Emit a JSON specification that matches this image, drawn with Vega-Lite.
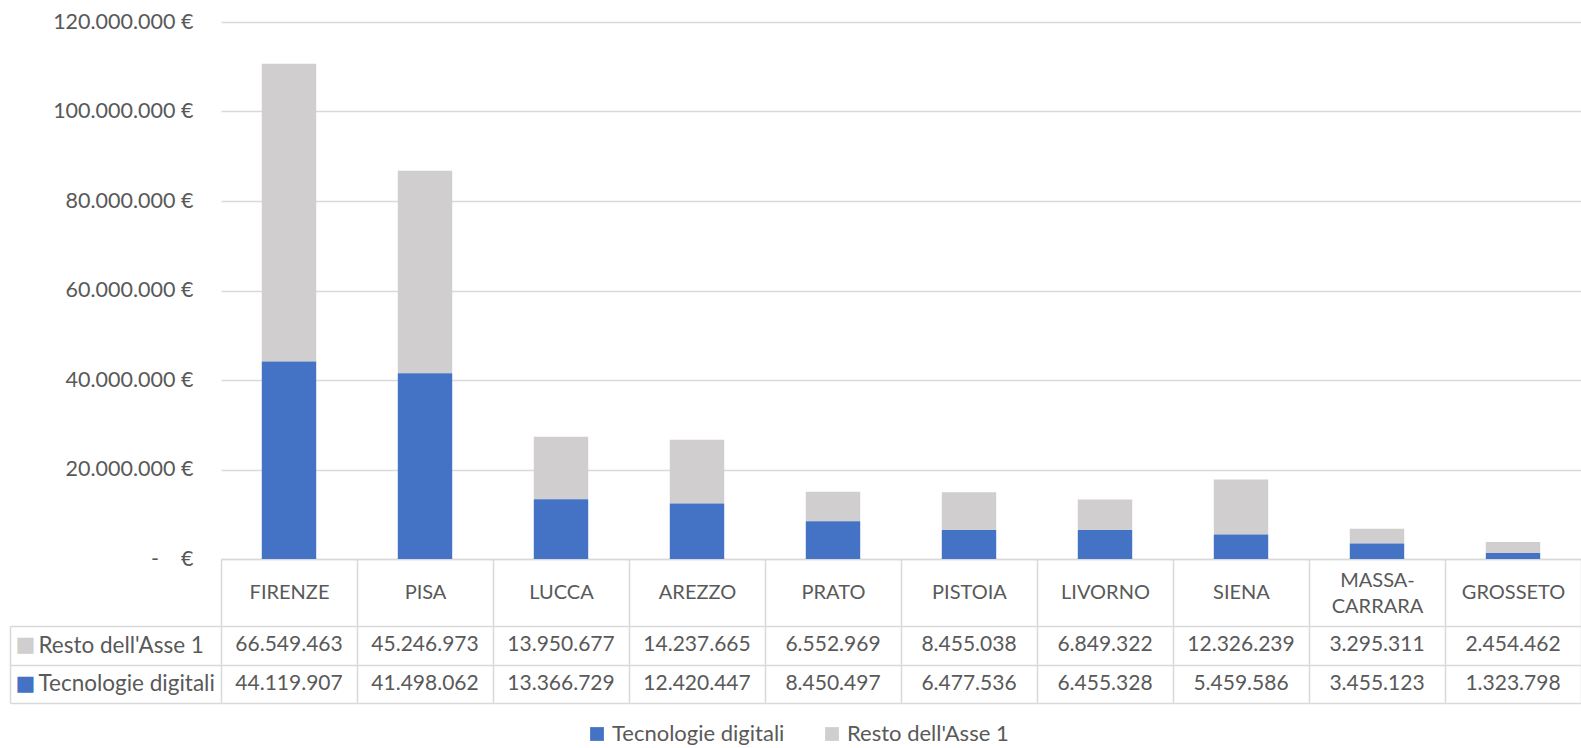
{
  "$schema": "https://vega.github.io/schema/vega-lite/v6.json",
  "padding": {"top": 11, "left": 9, "right": 0, "bottom": 0},
  "datasets": {
    "d": [
      {"city": "FIRENZE", "series": "Resto dell'Asse 1", "value": 66549463},
      {"city": "FIRENZE", "series": "Tecnologie digitali", "value": 44119907},
      {"city": "PISA", "series": "Resto dell'Asse 1", "value": 45246973},
      {"city": "PISA", "series": "Tecnologie digitali", "value": 41498062},
      {"city": "LUCCA", "series": "Resto dell'Asse 1", "value": 13950677},
      {"city": "LUCCA", "series": "Tecnologie digitali", "value": 13366729},
      {"city": "AREZZO", "series": "Resto dell'Asse 1", "value": 14237665},
      {"city": "AREZZO", "series": "Tecnologie digitali", "value": 12420447},
      {"city": "PRATO", "series": "Resto dell'Asse 1", "value": 6552969},
      {"city": "PRATO", "series": "Tecnologie digitali", "value": 8450497},
      {"city": "PISTOIA", "series": "Resto dell'Asse 1", "value": 8455038},
      {"city": "PISTOIA", "series": "Tecnologie digitali", "value": 6477536},
      {"city": "LIVORNO", "series": "Resto dell'Asse 1", "value": 6849322},
      {"city": "LIVORNO", "series": "Tecnologie digitali", "value": 6455328},
      {"city": "SIENA", "series": "Resto dell'Asse 1", "value": 12326239},
      {"city": "SIENA", "series": "Tecnologie digitali", "value": 5459586},
      {"city": "MASSA-CARRARA", "series": "Resto dell'Asse 1", "value": 3295311},
      {"city": "MASSA-CARRARA", "series": "Tecnologie digitali", "value": 3455123},
      {"city": "GROSSETO", "series": "Resto dell'Asse 1", "value": 2454462},
      {"city": "GROSSETO", "series": "Tecnologie digitali", "value": 1323798}
    ]
  },
  "spacing": 67,
  "bounds": "flush",
  "resolve": {"scale": {"color": "shared"}, "legend": {"color": "shared"}},
  "vconcat": [
    {
      "width": 1360,
      "height": 537,
      "data": {"name": "d"},
      "mark": {"type": "bar", "width": {"band": 0.4}},
      "encoding": {
        "x": {
          "field": "city", "type": "nominal",
          "sort": ["FIRENZE", "PISA", "LUCCA", "AREZZO", "PRATO", "PISTOIA", "LIVORNO", "SIENA", "MASSA-CARRARA", "GROSSETO"],
          "scale": {"paddingInner": 0, "paddingOuter": 0},
          "axis": {
            "title": null, "orient": "bottom", "labelAngle": 0,
            "tickBand": "extent", "tickSize": 67, "tickColor": "#d9d9d9", "tickWidth": 1.5,
            "domainColor": "#d9d9d9", "domainWidth": 1.5,
            "labelPadding": {"condition": {"test": "datum.value == 'MASSA-CARRARA'", "value": -46}, "value": -34},
            "labelBaseline": "middle", "labelFontSize": 20,
            "labelColor": "#595959", "labelLineHeight": 26,
            "labelExpr": "datum.value == 'MASSA-CARRARA' ? ['MASSA-', 'CARRARA'] : datum.value"
          }
        },
        "y": {
          "field": "value", "type": "quantitative",
          "scale": {"domain": [0, 120000000], "nice": false},
          "axis": {
            "title": null, "values": [0, 20000000, 40000000, 60000000, 80000000, 100000000, 120000000],
            "format": ",.0f",
            "labelExpr": "datum.value == 0 ? '-\u00a0\u00a0\u00a0\u00a0€' : datum.label + ' €'",
            "grid": true, "gridColor": "#d9d9d9", "gridWidth": 1.5,
            "domain": false, "ticks": false, "labelPadding": 28,
            "labelFontSize": 21.5, "labelColor": "#595959"
          }
        },
        "color": {
          "field": "series", "type": "nominal",
          "scale": {"domain": ["Tecnologie digitali", "Resto dell'Asse 1"], "range": ["#4472C4", "#D0CECE"]},
          "legend": {
            "title": null, "orient": "none", "legendX": 365, "legendY": 701, "direction": "horizontal",
            "symbolType": "square", "symbolSize": 190, "symbolStrokeWidth": 0, "labelLimit": 0,
            "labelFontSize": 22, "labelColor": "#595959", "columnPadding": 36, "padding": 0
          }
        },
        "order": {"field": "series", "sort": "descending"}
      }
    },
    {
      "width": 1360,
      "height": 77,
      "data": {"name": "d"},
      "layer": [
        {
          "mark": {"type": "text", "fontSize": 21, "color": "#595959", "baseline": "middle"},
          "encoding": {
            "x": {
              "field": "city", "type": "nominal",
              "sort": ["FIRENZE", "PISA", "LUCCA", "AREZZO", "PRATO", "PISTOIA", "LIVORNO", "SIENA", "MASSA-CARRARA", "GROSSETO"],
              "scale": {"paddingInner": 0, "paddingOuter": 0},
              "axis": {
                "title": null, "labels": false, "ticks": false, "domain": false,
                "grid": true, "tickBand": "extent", "gridColor": "#d9d9d9", "gridWidth": 1.5
              }
            },
            "y": {
              "field": "series", "type": "nominal",
              "sort": ["Resto dell'Asse 1", "Tecnologie digitali"],
              "scale": {"paddingInner": 0, "paddingOuter": 0},
              "axis": {
                "title": null, "orient": "left", "tickBand": "extent", "tickSize": 211,
                "tickColor": "#d9d9d9", "tickWidth": 1.5,
                "grid": true, "gridColor": "#d9d9d9", "gridWidth": 1.5,
                "domain": false, "labelAlign": "left", "labelPadding": -28,
                "labelFontSize": 22.5, "labelColor": "#595959", "labelBaseline": "middle"
              }
            },
            "text": {"field": "value", "type": "quantitative", "format": ",.0f"}
          }
        },
        {
          "mark": {"type": "text", "text": ""},
          "encoding": {
            "y": {
              "field": "series", "type": "nominal",
              "sort": ["Resto dell'Asse 1", "Tecnologie digitali"],
              "axis": {
                "title": null, "orient": "left", "offset": 211,
                "domain": true, "domainColor": "#d9d9d9", "domainWidth": 1.5,
                "ticks": false, "grid": false,
                "labelExpr": "'■'", "labelAlign": "center", "labelPadding": -15,
                "labelFont": "DejaVu Sans", "labelFontSize": 21, "labelBaseline": "middle",
                "labelColor": {"condition": {"test": "datum.value == 'Tecnologie digitali'", "value": "#4472C4"}, "value": "#D0CECE"}
              }
            }
          }
        }
      ],
      "resolve": {"axis": {"y": "independent"}}
    }
  ],
  "config": {
    "font": "Lato",
    "view": {"stroke": null},
    "locale": {"number": {"decimal": ",", "thousands": ".", "grouping": [3], "currency": ["", " €"]}}
  }
}
